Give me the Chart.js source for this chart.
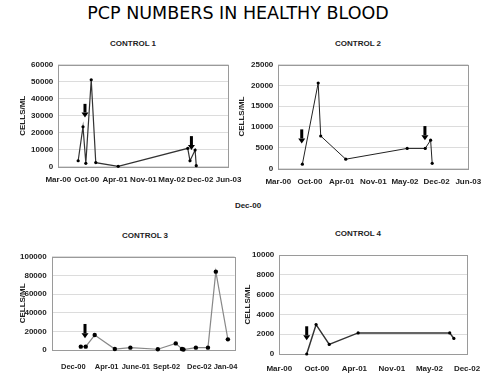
<!DOCTYPE html>
<html>
<head>
<meta charset="utf-8">
<script src="https://cdn.jsdelivr.net/npm/chart.js@4.4.1/dist/chart.umd.min.js"></script>
<style>
  body { margin: 0; background: #fff; }
  #page { position: relative; width: 500px; height: 375px; overflow: hidden; font-family: "Liberation Sans", Arial, sans-serif; }
  canvas { position: absolute; }
  .lbl { position: absolute; transform: translate(-50%, -50%); white-space: nowrap; font-weight: bold; font-size: 8px; color: #222; }
  #mainTitle { font-family: "DejaVu Sans", sans-serif; font-weight: normal; font-size: 17.5px; color: #000; }
</style>
</head>
<body>
<div id="page">
  <div id="mainTitle" class="lbl" style="left:238px;top:13px">PCP NUMBERS IN HEALTHY BLOOD</div>
  <div class="lbl" style="left:133px;top:43px">CONTROL 1</div>
  <div class="lbl" style="left:358px;top:43px">CONTROL 2</div>
  <div class="lbl" style="left:248px;top:205px">Dec-00</div>
  <div class="lbl" style="left:145px;top:235px">CONTROL 3</div>
  <div class="lbl" style="left:358px;top:233px">CONTROL 4</div>
  <canvas id="c1" width="250" height="140" style="left:0;top:55px"></canvas>
  <canvas id="c2" width="270" height="140" style="left:230px;top:55px"></canvas>
  <canvas id="c3" width="250" height="130" style="left:0;top:245px"></canvas>
  <canvas id="c4" width="265" height="130" style="left:235px;top:245px"></canvas>
</div>
<script>
/* ================================
   DATA (x = position in axis-label steps)
================================ */
const dateLabels = ['Mar-00', 'Oct-00', 'Apr-01', 'Nov-01', 'May-02', 'Dec-02', 'Jun-03'];
const c4Labels = ['Mar-00', 'Oct-00', 'Apr-01', 'Nov-01', 'May-02', 'Dec-02'];
const c3Labels = ['Dec-00', 'Apr-01', 'June-01', 'Sept-02', 'Dec-02', 'Jan-04'];
const c3LabelPos = [1.18, 3.0, 4.6, 6.28, 8.07, 9.5];

const c1Time = [0.70, 0.87, 0.97, 1.16, 1.32, 2.11, 4.56, 4.64, 4.82, 4.86];
const c1Cells = [3500, 23500, 2000, 51200, 2400, 200, 10800, 3500, 9800, 600];
const c1Arrows = [[0.94, 37000, 29000], [4.69, 18000, 9800]];

const c2Time = [0.76, 1.26, 1.34, 2.13, 4.07, 4.64, 4.81, 4.86];
const c2Cells = [1000, 20600, 7800, 2200, 4800, 4800, 6800, 1200];
const c2Arrows = [[0.74, 9400, 6000], [4.63, 10200, 6800]];

const c3Time = [1.59, 1.86, 2.35, 3.45, 4.30, 5.80, 6.78, 7.12, 7.20, 7.88, 8.54, 8.97, 9.63];
const c3Cells = [3600, 3600, 16000, 1000, 2500, 800, 7100, 1000, 500, 2500, 2500, 84000, 11400];
const c3Arrows = [[1.82, 27900, 12500]];

const c4Time = [0.73, 0.98, 1.33, 2.10, 4.54, 4.65];
const c4Cells = [0, 2970, 970, 2130, 2130, 1570];
const c4Arrows = [[0.73, 2800, 1400]];

/* ================================
   PLOT FRAME + ARROWS
================================ */
const plotExtras = {
    id: 'plotExtras',
    beforeDatasetsDraw(chart) {
        const { ctx, chartArea: a } = chart;
        ctx.save();
        ctx.strokeStyle = '#9a9a9a';
        ctx.lineWidth = 1;
        ctx.strokeRect(Math.round(a.left) + 0.5, Math.round(a.top) + 0.5, Math.round(a.width), Math.round(a.height));
        ctx.restore();
    },
    afterDatasetsDraw(chart, args, opts) {
        const { ctx, scales: { x, y } } = chart;
        ctx.save();
        ctx.fillStyle = '#000';
        (opts.arrows || []).forEach(([xv, top, tip]) => {
            const px = x.getPixelForValue(xv);
            const y0 = y.getPixelForValue(top);
            const y1 = y.getPixelForValue(tip);
            const head = 5;
            ctx.fillRect(px - 1.5, y0, 3, y1 - y0 - head);
            ctx.beginPath();
            ctx.moveTo(px - 3.5, y1 - head);
            ctx.lineTo(px + 3.5, y1 - head);
            ctx.lineTo(px, y1);
            ctx.closePath();
            ctx.fill();
        });
        ctx.restore();
    }
};

const tickFont = { family: '"Liberation Sans", Arial, sans-serif', size: 8, weight: 'bold' };

function makeChart(id, o) {
    return new Chart(document.getElementById(id), {
        type: 'line',
        data: {
            datasets: [{
                data: o.xs.map((v, i) => ({ x: v, y: o.ys[i] })),
                borderColor: o.line,
                borderWidth: o.lw,
                pointRadius: o.pr,
                pointBackgroundColor: '#000',
                pointBorderColor: '#000',
                pointBorderWidth: 0,
                tension: 0,
                clip: false
            }]
        },
        options: {
            responsive: false,
            animation: false,
            layout: { padding: { top: o.padTop, right: o.padRight, left: 0, bottom: 0 } },
            plugins: {
                legend: { display: false },
                tooltip: { enabled: false },
                plotExtras: { arrows: o.arrows }
            },
            scales: {
                x: {
                    type: 'linear',
                    min: 0,
                    max: o.xMax,
                    afterFit: s => { s.height = o.xh; },
                    afterBuildTicks: s => { s.ticks = o.tickPos.map(v => ({ value: v })); },
                    grid: { display: false, drawTicks: false },
                    border: { display: false },
                    ticks: {
                        autoSkip: false, maxRotation: 0, padding: o.xpad,
                        font: { ...tickFont, size: o.xFontSize || 8 }, color: '#222',
                        callback: (v, i) => o.tickLabels[i]
                    }
                },
                y: {
                    min: 0,
                    max: o.yMax,
                    afterFit: s => { s.width = o.yw; },
                    grid: { color: '#dcdcdc', drawTicks: false },
                    border: { display: false },
                    ticks: { stepSize: o.yStep, padding: 5, font: tickFont, color: '#222', callback: v => String(v) },
                    title: { display: true, text: 'CELLS/ML', font: tickFont, color: '#222', padding: { top: o.tpad, bottom: 0 } }
                }
            }
        },
        plugins: [plotExtras]
    });
}

makeChart('c1', {
    xs: c1Time, ys: c1Cells, arrows: c1Arrows,
    line: '#333', lw: 1.2, pr: 1.6,
    xMax: 6, tickPos: [0, 1, 2, 3, 4, 5, 6], tickLabels: dateLabels,
    yMax: 60000, yStep: 10000,
    padTop: 9.5, padRight: 14, yw: 58.3, xh: 28.3, xpad: 8.5, tpad: 18.2
});

makeChart('c2', {
    xs: c2Time, ys: c2Cells, arrows: c2Arrows,
    line: '#222', lw: 1, pr: 1.6,
    xMax: 6, tickPos: [0, 1, 2, 3, 4, 5, 6], tickLabels: dateLabels,
    yMax: 25000, yStep: 5000,
    padTop: 9.3, padRight: 31.7, yw: 48.3, xh: 26.7, xpad: 8.6, tpad: 6.9
});

makeChart('c3', {
    xs: c3Time, ys: c3Cells, arrows: c3Arrows,
    line: '#888', lw: 1.2, pr: 2.2,
    xMax: 10, tickPos: c3LabelPos, tickLabels: c3Labels, xFontSize: 7.5,
    yMax: 100000, yStep: 20000,
    padTop: 11.7, padRight: 10, yw: 51.7, xh: 25, xpad: 12.1, tpad: 18.2
});

makeChart('c4', {
    xs: c4Time, ys: c4Cells, arrows: c4Arrows,
    line: '#333', lw: 1.5, pr: 1.6,
    xMax: 5, tickPos: [0, 1, 2, 3, 4, 5], tickLabels: c4Labels,
    yMax: 10000, yStep: 2000,
    padTop: 10, padRight: 33, yw: 44.3, xh: 21, xpad: 9.5, tpad: 8.2
});
</script>
</body>
</html>
